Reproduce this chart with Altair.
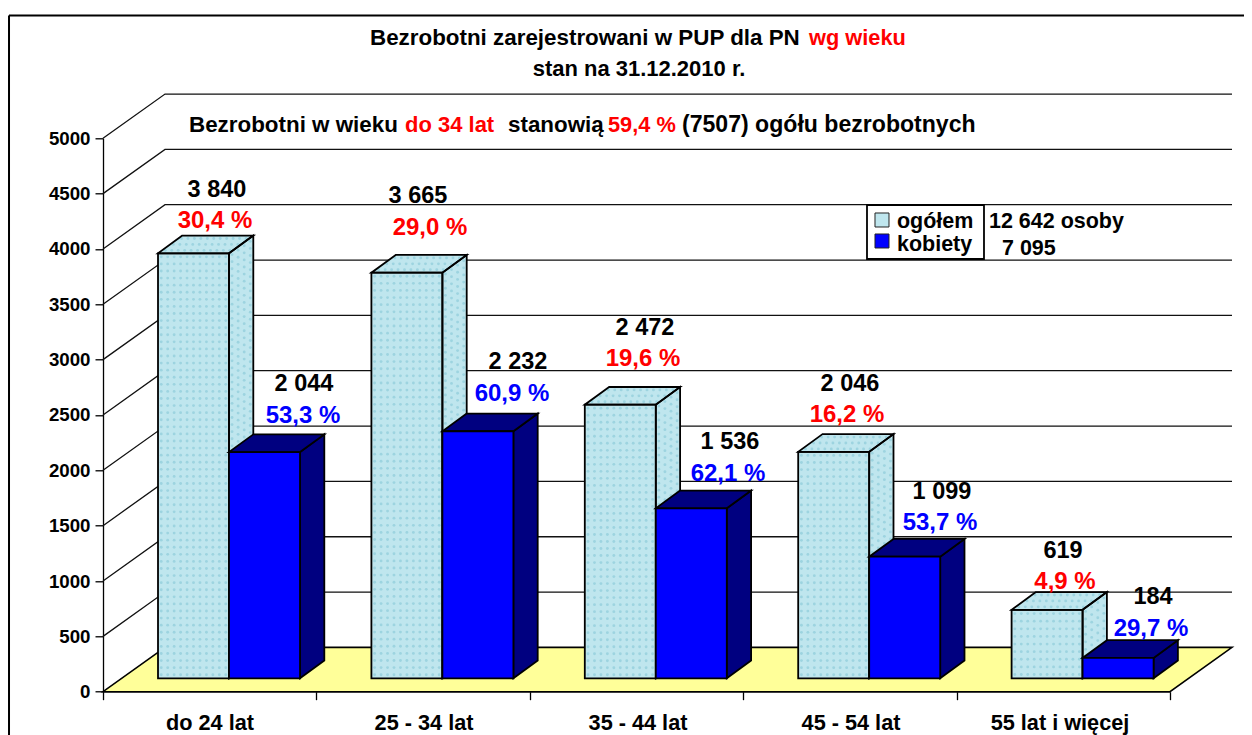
import altair as alt
import pandas as pd

categories = ["do 24 lat", "25 - 34 lat", "35 - 44 lat", "45 - 54 lat", "55 lat i więcej"]
ogolem = [3840, 3665, 2472, 2046, 619]
kobiety = [2044, 2232, 1536, 1099, 184]
ogolem_pct = ["30,4 %", "29,0 %", "19,6 %", "16,2 %", "4,9 %"]
kobiety_pct = ["53,3 %", "60,9 %", "62,1 %", "53,7 %", "29,7 %"]
ogolem_lbl = ["3 840", "3 665", "2 472", "2 046", "619"]
kobiety_lbl = ["2 044", "2 232", "1 536", "1 099", "184"]
grid_values = [0, 500, 1000, 1500, 2000, 2500, 3000, 3500, 4000, 4500, 5000]

# scale geometry (pixel per data unit)
CAT = 213.4
VAL = 0.11068
X0, Y0 = 103.0, 691.7
XMAX = 1129 / CAT
xd = lambda px: (px - X0) / CAT
yd = lambda py: (Y0 - py) / VAL

WALL_DX, WALL_DY = 62 / CAT, 400
BAR_OFF, BAR_W = 55 / CAT, 71 / CAT
BASE = 121
D_X, D_Y = 24.3 / CAT, 160

LIGHT, LIGHT_DOT = "#bfe6ee", "#97d0dd"
BLUE, NAVY = "#0000ff", "#000080"
YEL = "#ffff99"

xs = alt.Scale(domain=[0, XMAX], nice=False, zero=False)
ys = alt.Scale(domain=[0, 5000], nice=False, zero=False)
x_axis = alt.Axis(values=list(range(6)), labels=False, domain=False, grid=False, title=None,
                  tickSize=8, tickColor="black", tickWidth=1.3, orient="bottom")
y_axis = alt.Axis(values=grid_values, grid=False, title=None, tickSize=8, tickColor="black", format="d",
                  tickWidth=1.3, domainColor="black", domainWidth=1.3, labelFont="Liberation Sans",
                  labelFontWeight="bold", labelFontSize=18.7, labelColor="black", labelPadding=5)
X = lambda f="x": alt.X(f"{f}:Q", scale=xs, axis=x_axis)
Y = lambda f="y": alt.Y(f"{f}:Q", scale=ys, axis=y_axis)

# walls
wall_rows = []
for v in grid_values[1:]:
    wall_rows += [dict(g=v, x=0, y=v), dict(g=v, x=WALL_DX, y=v + WALL_DY), dict(g=v, x=XMAX, y=v + WALL_DY)]
walls = alt.Chart(pd.DataFrame(wall_rows)).mark_line(color="#111111", strokeWidth=1.3, clip=False).encode(
    X(), Y(), detail="g:N")

floor_df = pd.DataFrame([
    dict(y=0, x=0, x2=5),
    dict(y=WALL_DY, x=WALL_DX, x2=XMAX),
])
floor = alt.Chart(floor_df).mark_area(orient="horizontal", fill=YEL, stroke="black", strokeWidth=1.6, clip=False).encode(
    X(), x2="x2:Q", y=Y())

# bar faces
def faces(values, start):
    front, side, top = [], [], []
    for i, v in enumerate(values):
        a = i + start
        b = a + BAR_W
        h = BASE + v
        front.append(dict(i=i, x=a, x2=b, y=BASE, y2=h))
        side += [dict(i=i, x=b, y=BASE, y2=h), dict(i=i, x=b + D_X, y=BASE + D_Y, y2=h + D_Y)]
        top += [dict(i=i, y=h, x=a, x2=b), dict(i=i, y=h + D_Y, x=a + D_X, x2=b + D_X)]
    return pd.DataFrame(front), pd.DataFrame(side), pd.DataFrame(top)

def face_layers(front, side, top, fc, sc, tc, stroke=None):
    kw = dict(stroke=stroke, strokeWidth=1.8) if stroke else {}
    return [
        alt.Chart(side).mark_area(fill=sc, clip=False, **kw).encode(X(), Y(), y2="y2:Q", detail="i:N"),
        alt.Chart(top).mark_area(orient="horizontal", fill=tc, clip=False, **kw).encode(X(), x2="x2:Q", y=Y(), detail="i:N"),
        alt.Chart(front).mark_rect(fill=fc, clip=False, **kw).encode(X(), x2="x2:Q", y=Y(), y2="y2:Q"),
    ]

def texture(values):
    # the speckled fill of the light columns
    rows = []
    for i, v in enumerate(values):
        a = i + BAR_OFF
        px_h = v * VAL
        nx, ny = 11, max(int(px_h / 7), 1)
        for m in range(nx):
            for n in range(ny):
                u, w = (m + .5) / nx, (n + .5) / ny
                rows.append(dict(x=a + u * BAR_W, y=BASE + w * v))
        for m in range(4):
            for n in range(ny):
                u, w = (m + .5) / 4, (n + .5) / ny
                rows.append(dict(x=a + BAR_W + u * D_X, y=BASE + w * v + u * D_Y))
        for m in range(11):
            for n in range(3):
                u, w = (m + .5) / 11, (n + .5) / 3
                rows.append(dict(x=a + u * BAR_W + w * D_X, y=BASE + v + w * D_Y))
    return alt.Chart(pd.DataFrame(rows)).mark_point(filled=True, shape="circle", size=8, color=LIGHT_DOT, opacity=0.85, clip=False).encode(X(), Y())

f1, s1, t1 = faces(ogolem, BAR_OFF)
f2, s2, t2 = faces(kobiety, BAR_OFF + BAR_W)
light_fill = face_layers(f1, s1, t1, LIGHT, LIGHT, LIGHT)
light_line = face_layers(f1, s1, t1, "transparent", "transparent", "transparent", "black")
blue_layers = face_layers(f2, s2, t2, BLUE, NAVY, NAVY, "black")

# labels
def txt(rows, align="center"):
    df = pd.DataFrame(rows, columns=["t", "px", "py", "c", "s"])
    df["x"] = df.px.map(xd)
    df["y"] = df.py.map(yd)
    return alt.Chart(df).mark_text(font="Liberation Sans", fontWeight="bold", align=align, baseline="middle", clip=False).encode(
        X(), Y(), text="t:N",
        color=alt.Color("c:N", scale=None),
        size=alt.Size("s:Q", scale=None))

ogl_pos = [(217, 190), (418, 196), (645, 328), (850, 384), (1063, 551)]
ogp_pos = [(215, 221), (430, 228), (643, 359), (847, 415), (1065, 582)]
kob_pos = [(304, 384), (518, 362), (730, 442), (942, 492), (1153, 597)]
kop_pos = [(303, 416), (512, 394), (728, 474), (940, 523), (1151, 629)]
cat_x = [210, 424, 638, 851, 1060]
center_rows = []
for i in range(5):
    center_rows.append((ogolem_lbl[i], *ogl_pos[i], "black", 23.5))
    center_rows.append((ogolem_pct[i], *ogp_pos[i], "#ff0000", 24))
    center_rows.append((kobiety_lbl[i], *kob_pos[i], "black", 23.5))
    center_rows.append((kobiety_pct[i], *kop_pos[i], "#0000ff", 24))
    center_rows.append((categories[i], cat_x[i], 723, "black", 21.7))
center_rows.append(("stan na 31.12.2010 r.", 639, 69, "black", 22))
left_rows = [
    ("Bezrobotni zarejestrowani w PUP dla PN", 370, 38, "black", 22.4),
    ("wg wieku", 809, 38, "#ff0000", 21.8),
    ("Bezrobotni w wieku", 189, 125, "black", 22.4),
    ("do 34 lat", 405, 125, "#ff0000", 22),
    ("stanowią", 508, 125, "black", 22.4),
    ("59,4 %", 608, 125, "#ff0000", 21.8),
    ("(7507) ogółu bezrobotnych", 682, 125, "black", 23.1),
    ("ogółem", 897, 222, "black", 21.5),
    ("kobiety", 897, 245, "black", 21.5),
    ("12 642 osoby", 989, 222, "black", 21.5),
    ("7 095", 1002, 249, "black", 21.5),
]

# legend box and swatches
def box(px0, py0, px1, py1, fill, stroke="black", sw=1.5):
    df = pd.DataFrame([dict(x=xd(px0), x2=xd(px1), y=yd(py0), y2=yd(py1))])
    return alt.Chart(df).mark_rect(fill=fill, stroke=stroke, strokeWidth=sw, clip=False).encode(X(), x2="x2:Q", y=Y(), y2="y2:Q")

legend = [
    box(867, 205, 984, 259, "white", sw=1.8),
    box(875, 213, 889, 227, LIGHT, "#222222", 1),
    box(875, 234, 889, 248, BLUE, "#222222", 1),
]

# outer frame: left and top edges
frame_df = pd.DataFrame([
    dict(g=0, o=0, x=xd(9), y=yd(735)), dict(g=0, o=1, x=xd(9), y=yd(15.5)),
    dict(g=1, o=0, x=xd(9), y=yd(15.5)), dict(g=1, o=1, x=xd(1252), y=yd(15.5)),
])
frame = alt.Chart(frame_df).mark_line(color="black", strokeWidth=2, clip=False).encode(X(), Y(), detail="g:N", order="o:Q")

# front edge of the floor
axis_df = pd.DataFrame(dict(x=[0, 5], y=[0, 0]))
axes = alt.Chart(axis_df).mark_line(color="black", strokeWidth=1.5, clip=False).encode(X(), Y())

chart = alt.layer(
    frame, floor, walls, axes,
    *light_fill, texture(ogolem), *light_line,
    *blue_layers,
    *legend,
    txt(center_rows), txt(left_rows, "left"),
).properties(
    width=1129, height=553.4,
    padding={"left": 95, "top": 130.3, "right": 12, "bottom": 43},
    autosize=alt.AutoSizeParams(type="none"),
).configure_view(stroke=None)

chart.save("out.html", embed_options={"renderer": "svg", "actions": False})
